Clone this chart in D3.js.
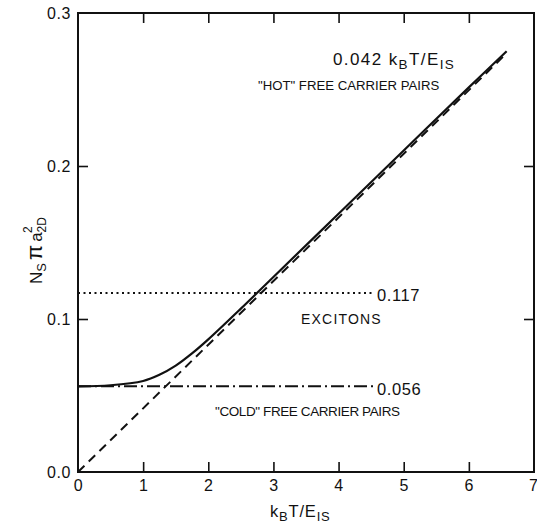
<!DOCTYPE html>
<html>
<head>
<meta charset="utf-8">
<script src="https://cdn.jsdelivr.net/npm/d3@7"></script>
<style>
  body { margin: 0; background: #fff; }
  svg text { font-family: 'Liberation Sans', Arial, sans-serif; fill: #111; }
</style>
</head>
<body>
<script>
// values
const xTickValues = [0, 1, 2, 3, 4, 5, 6, 7];
const yTickValues = [0.0, 0.1, 0.2, 0.3];
const yTickLabels = ['0.0', '0.1', '0.2', '0.3'];

// total density (solid)
const totalX = [0, 0.5, 1.0, 1.25, 1.5, 1.75, 2.0, 2.5, 3.0, 4.0, 5.0, 6.0, 6.58];
const totalY = [0.056, 0.0567, 0.0595, 0.0635, 0.0695, 0.0775, 0.0867, 0.1068, 0.1275, 0.1688, 0.2101, 0.2514, 0.275];

// hot free carrier pairs (dashed)
const hotX = [0, 6.58];
const hotY = [0, 0.2737];

// excitons (dotted)
const excitonX = [0, 4.53];
const excitonY = [0.117, 0.117];

// cold free carrier pairs (dash-dot)
const coldX = [0, 4.53];
const coldY = [0.056, 0.056];

const width = 537;
const height = 527;
const plotLeft = 78, plotRight = 534, plotTop = 13, plotBottom = 472;

const svg = d3.select('body')
    .append('svg')
    .attr('width', width)
    .attr('height', height);

const xScale = d3.scaleLinear().domain([0, 7]).range([plotLeft, plotRight]);
const yScale = d3.scaleLinear().domain([0, 0.3]).range([plotBottom, plotTop]);

// frame
svg.append('rect')
    .attr('x', plotLeft)
    .attr('y', plotTop)
    .attr('width', plotRight - plotLeft)
    .attr('height', plotBottom - plotTop)
    .attr('fill', 'none')
    .attr('stroke', '#111')
    .attr('stroke-width', 2);

const xAxis = d3.axisBottom(xScale)
    .tickValues(xTickValues)
    .tickSize(-10)
    .tickPadding(5)
    .tickFormat(d3.format('d'));

const yAxis = d3.axisLeft(yScale)
    .tickValues(yTickValues)
    .tickSize(-10)
    .tickPadding(7)
    .tickFormat((d, i) => yTickLabels[i]);

const gx = svg.append('g')
    .attr('transform', 'translate(0,' + plotBottom + ')')
    .call(xAxis);

const gy = svg.append('g')
    .attr('transform', 'translate(' + plotLeft + ',0)')
    .call(yAxis);

const gxTop = svg.append('g')
    .attr('transform', 'translate(0,' + plotTop + ')')
    .call(d3.axisTop(xScale).tickValues(xTickValues.slice(1, -1)).tickSize(-10).tickFormat(''));

const gyRight = svg.append('g')
    .attr('transform', 'translate(' + plotRight + ',0)')
    .call(d3.axisRight(yScale).tickValues(yTickValues.slice(1, -1)).tickSize(-10).tickFormat(''));

[gx, gy, gxTop, gyRight].forEach(g => {
    g.select('.domain').remove();
    g.selectAll('line').attr('stroke', '#111').attr('stroke-width', 1.6);
    g.selectAll('text').style('font-size', '16px').style('letter-spacing', '0.6px').attr('fill', '#111');
});
gx.selectAll('.tick').filter(d => d === 0 || d === 7).select('line').remove();
gy.selectAll('.tick').filter(d => d === 0 || d === 0.3).select('line').remove();
gx.selectAll('text').attr('dy', '0.9em');
gx.selectAll('.tick').filter(d => d === 7).select('text').attr('text-anchor', 'end').attr('x', 4);

const line = d3.line()
    .x(d => xScale(d[0]))
    .y(d => yScale(d[1]));

const curve = d3.line()
    .curve(d3.curveCatmullRom.alpha(0.5))
    .x(d => xScale(d[0]))
    .y(d => yScale(d[1]));

svg.append('path')
    .datum(d3.zip(hotX, hotY))
    .attr('d', line)
    .attr('fill', 'none')
    .attr('stroke', '#111')
    .attr('stroke-width', 2)
    .attr('stroke-dasharray', '9,6');

svg.append('path')
    .datum(d3.zip(totalX, totalY))
    .attr('d', curve)
    .attr('fill', 'none')
    .attr('stroke', '#111')
    .attr('stroke-width', 2.2);

svg.append('path')
    .datum(d3.zip(excitonX, excitonY))
    .attr('d', line)
    .attr('fill', 'none')
    .attr('stroke', '#111')
    .attr('stroke-width', 2.2)
    .attr('stroke-dasharray', '2,3.5');

svg.append('path')
    .datum(d3.zip(coldX, coldY))
    .attr('d', line)
    .attr('fill', 'none')
    .attr('stroke', '#111')
    .attr('stroke-width', 2)
    .attr('stroke-dasharray', '13,4,2,4');

// labels on the plot
function label(x, y, parts, size, spacing) {
    const t = svg.append('text')
        .attr('x', x)
        .attr('y', y)
        .style('font-size', size + 'px')
        .style('letter-spacing', (spacing || 0) + 'px');
    parts.forEach(p => {
        const s = t.append('tspan').text(p.t);
        if (p.dy) s.attr('dy', p.dy);
        if (p.dx) s.attr('dx', p.dx);
        if (p.size) s.style('font-size', p.size + 'px');
    });
    return t;
}

label(333, 65, [
    { t: '0.042 k' },
    { t: 'B', dy: 4, size: 13.5 },
    { t: 'T/E', dy: -4 },
    { t: 'IS', dy: 4, size: 13.5 }
], 17, 1.4);

label(258, 90, [{ t: '"HOT" FREE CARRIER PAIRS' }], 13.2, 0);
label(377, 301, [{ t: '0.117' }], 16.5, 0.6);
label(301, 324, [{ t: 'EXCITONS' }], 14, 1.2);
label(377, 395, [{ t: '0.056' }], 16.5, 0.6);
label(215, 416, [{ t: '"COLD" FREE CARRIER PAIRS' }], 13.5, -0.4);

// x axis title
label(270, 517, [
    { t: 'k' },
    { t: 'B', dy: 4, size: 13 },
    { t: 'T/E', dy: -4 },
    { t: 'IS', dy: 4, size: 13 }
], 16.5, 0.8);

// y axis title
const yt = svg.append('text')
    .attr('transform', 'translate(42,284) rotate(-90)')
    .style('font-size', '17px');
yt.append('tspan').text('N');
yt.append('tspan').text('S').attr('dy', 4).style('font-size', '13px');
yt.append('tspan').text('π').attr('dy', -4).attr('dx', 3).style('font-size', '22px');
yt.append('tspan').text('a').attr('dx', 3);
yt.append('tspan').text('2D').attr('dy', 4).style('font-size', '12px');
yt.append('tspan').text('2').attr('dx', -16).attr('dy', -14).style('font-size', '12px');
</script>
</body>
</html>
